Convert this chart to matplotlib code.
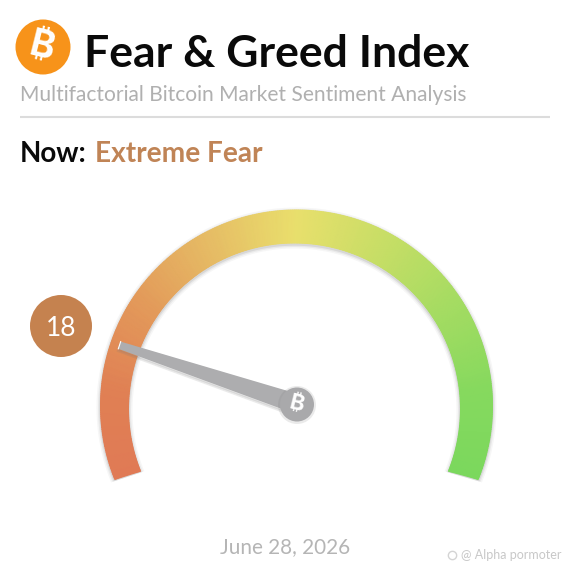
import numpy as np
import matplotlib
matplotlib.use("Agg")
from matplotlib import pyplot as plt
from matplotlib.colors import LinearSegmentedColormap
from matplotlib.patches import Circle, Polygon

plt.rcParams['font.family'] = ['Lato', 'DejaVu Sans']

# values
index_value = 18
scale_min = 0
scale_max = 100
title = "Fear & Greed Index"
subtitle = "Multifactorial Bitcoin Market Sentiment Analysis"
now_label = "Now:"
state_label = "Extreme Fear"
date_label = "June 28, 2026"
watermark = "@ Alpha pormoter"

stop_values = [0, 12, 25, 38, 50, 62, 75, 88, 100]
stop_colors = ["#e07a55", "#e08054", "#e39a5a", "#e6bd65", "#e9df6c",
               "#c9de66", "#a6dc62", "#86d95e", "#7bd85d"]

# gauge sweep, degrees measured from the left horizontal
start_angle = -22
end_angle = 202

btc_fonts = ['Inter', 'Noto Sans', 'Roboto', 'Open Sans', 'Liberation Sans', 'Noto Sans CJK SC', 'DejaVu Sans']

def value_to_angle(v):
    return start_angle + (v - scale_min) / (scale_max - scale_min) * (end_angle - start_angle)

def bitcoin(ax, x, y, size):
    ax.text(x, y, "\u20bf", family=btc_fonts, weight="bold", color="white", fontsize=size,
            rotation=-14, ha="center", va="center", zorder=8)

fig = plt.figure(figsize=(5.7, 5.7), dpi=100)
ax = fig.add_axes([0, 0, 1, 1])
ax.set_xlim(0, 570)
ax.set_ylim(570, 0)
ax.axis("off")

# header
ax.add_patch(Circle((43, 47), 27.5, color="#f7931a", lw=0))
bitcoin(ax, 42, 47, 27)
ax.text(84, 67, title, fontsize=32, color="#0a0a0a", weight="bold", va="baseline")
ax.text(20, 101, subtitle, fontsize=15.1, color="#b0b0b0", va="baseline")
ax.plot([20, 550], [117, 117], color="#dcdcdc", lw=1.5, solid_capstyle="butt")
ax.text(20, 162, now_label, fontsize=20, color="#0a0a0a", weight="bold", va="baseline")
ax.text(95, 162, state_label, fontsize=20.2, color="#c08456", weight="bold", va="baseline")

# gauge band, outer and inner edge are not quite concentric
values = np.linspace(scale_min, scale_max, 401)
angles = np.radians(value_to_angle(values))
outer = (296.5, 406, 196)
inner = (294.5, 409, 166)
xo = outer[0] - outer[2] * np.cos(angles)
yo = outer[1] - outer[2] * np.sin(angles)
xi = inner[0] - inner[2] * np.cos(angles)
yi = inner[1] - inner[2] * np.sin(angles)

# soft shadow under the band, falls downwards
for grow, alpha in [(4, 0.05), (2.5, 0.08), (1.2, 0.12)]:
    xs = np.r_[outer[0] - (outer[2] + grow) * np.cos(angles), (inner[0] - (inner[2] - grow) * np.cos(angles))[::-1]]
    ys = np.r_[outer[1] + 1.5 - (outer[2] + grow) * np.sin(angles), (inner[1] + 1.5 - (inner[2] - grow) * np.sin(angles))[::-1]]
    ax.add_patch(Polygon(np.c_[xs, ys], color="#555555", alpha=alpha, lw=0, zorder=1))

cmap = LinearSegmentedColormap.from_list(
    "gauge", [(v / scale_max, c) for v, c in zip(stop_values, stop_colors)])
ax.pcolormesh(np.c_[xi, xo], np.c_[yi, yo], np.c_[values, values],
              cmap=cmap, vmin=scale_min, vmax=scale_max, shading="gouraud", zorder=2)

# needle
hub = np.array([297, 404])
a = np.radians(value_to_angle(index_value))
direction = np.array([-np.cos(a), -np.sin(a)])
normal = np.array([-direction[1], direction[0]])
tip = hub + direction * 187
base = hub + direction * 12
needle = [tip + normal * 3.8, tip - normal * 3.8, base - normal * 9.5, base + normal * 9.5]
shadow = [p + np.array([0, 2]) for p in needle]
ax.add_patch(Polygon(shadow, color="#777777", alpha=0.15, lw=2, zorder=3))
ax.add_patch(Polygon(needle, color="#adadaf", lw=0, zorder=4))
ax.plot([needle[0][0], needle[1][0]], [needle[0][1], needle[1][1]], color="white", lw=0.8, zorder=5)
ax.add_patch(Circle((297, 405), 19, color="#777777", alpha=0.15, lw=0, zorder=5))
ax.add_patch(Circle((297, 404.5), 17, color="#a9a9ab", lw=0, zorder=6))
bitcoin(ax, 296.5, 404.5, 16)

# value bubble
ax.add_patch(Circle((61, 326), 31, color="#c5824f", lw=0, zorder=3))
ax.text(61, 326, str(index_value), fontsize=19, color="white", ha="center", va="center_baseline", zorder=4)

# footer
ax.text(285, 547, date_label, fontsize=14.9, color="#b5b5b5", ha="center", va="center")
ax.plot([452], [554.5], marker="o", ms=6, mfc="none", mec="#d4d4d4", mew=1)
ax.text(461, 555, watermark, fontsize=9, color="#c8c8c8", va="center")

fig.savefig("out.png", dpi=100, facecolor="white")
